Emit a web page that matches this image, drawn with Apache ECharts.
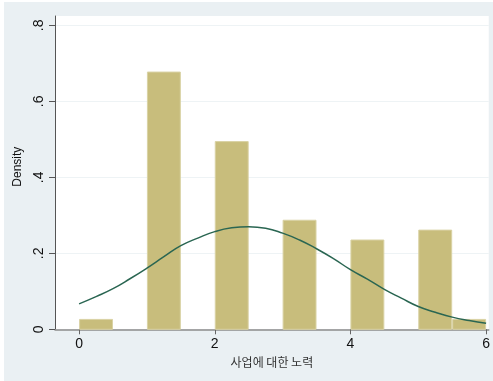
<!DOCTYPE html>
<html>
<head>
<meta charset="utf-8">
<script src="https://cdn.jsdelivr.net/npm/echarts@6/dist/echarts.min.js"></script>
<style>
  html, body { margin: 0; padding: 0; background: #ffffff; }
  #chart { width: 493px; height: 381px; }
</style>
</head>
<body>
<div id="chart"></div>
<script>
// Histogram bins (left edge, width 0.5) and their densities
const binStarts = [0, 1, 2, 3, 4, 5, 5.5];
const binWidth = 0.5;
const binDensity = [0.026, 0.677, 0.494, 0.287, 0.235, 0.261, 0.026];

// Normal density overlay, sampled every quarter unit
const curveX = [0, 0.25, 0.5, 0.75, 1, 1.25, 1.5, 1.75, 2, 2.25, 2.5, 2.75, 3,
                3.25, 3.5, 3.75, 4, 4.25, 4.5, 4.75, 5, 5.25, 5.5, 5.75, 6];
const curveY = [0.067, 0.086, 0.107, 0.133, 0.161, 0.191, 0.220, 0.240, 0.257, 0.267, 0.270, 0.266, 0.253,
                0.235, 0.212, 0.186, 0.157, 0.132, 0.105, 0.082, 0.060, 0.045, 0.032, 0.023, 0.016];

// Axis ticks
const yTicks = [0, 0.2, 0.4, 0.6, 0.8];
const yTickLabels = ['0', '.2', '.4', '.6', '.8'];
const xTicks = [0, 2, 4, 6];

const chart = echarts.init(document.getElementById('chart'), null, { renderer: 'canvas' });

const barData = binStarts.map((s, i) => [s, s + binWidth, binDensity[i]]);
const lineData = curveX.map((x, i) => [x, curveY[i]]);

const textFont = '"Liberation Sans", Arial, sans-serif';

chart.setOption({
  backgroundColor: '#ffffff',
  animation: false,
  graphic: [{
    type: 'rect',
    z: -10,
    silent: true,
    shape: { x: 4, y: 2, width: 489, height: 379 },
    style: { fill: '#eaf0f3' }
  }],
  grid: {
    left: 55, right: 0, top: 16, bottom: 51.7,
    show: true, backgroundColor: '#ffffff', borderWidth: 0
  },
  xAxis: {
    type: 'value',
    min: -0.355, max: 6.039,
    name: '사업에 대한 노력',
    nameLocation: 'middle',
    nameGap: 25,
    nameTextStyle: { fontFamily: '"Noto Sans CJK KR", sans-serif', fontSize: 12, color: '#333' },
    axisLine: { show: true, onZero: false, lineStyle: { color: '#8c8c8c', width: 1.5 } },
    axisTick: { show: true, length: 5, customValues: xTicks, lineStyle: { color: '#666' } },
    axisLabel: { customValues: xTicks, margin: 8, fontSize: 14, color: '#111', fontFamily: textFont },
    splitLine: { show: false }
  },
  yAxis: {
    type: 'value',
    min: 0, max: 0.8245,
    name: 'Density',
    nameLocation: 'middle',
    nameRotate: 90,
    nameGap: 24,
    nameTextStyle: { fontFamily: textFont, fontSize: 12, color: '#111', padding: [0, 0, 0, 12] },
    axisLine: { show: true, onZero: false, lineStyle: { color: '#555', width: 1 } },
    axisTick: { show: true, length: 6, customValues: yTicks, lineStyle: { color: '#555' } },
    axisLabel: {
      customValues: yTicks,
      rotate: 90,
      margin: 9,
      fontSize: 14,
      color: '#111',
      fontFamily: textFont,
      formatter: v => yTickLabels[yTicks.findIndex(t => Math.abs(t - v) < 1e-9)] ?? ''
    },
    splitLine: { show: true, lineStyle: { color: '#eef3f5', width: 1 } }
  },
  series: [
    {
      type: 'custom',
      data: barData,
      encode: { x: [0, 1], y: 2 },
      renderItem: (params, api) => {
        const p0 = api.coord([api.value(0), 0]);
        const p1 = api.coord([api.value(1), api.value(2)]);
        return {
          type: 'rect',
          shape: { x: p0[0] + 0.5, y: p1[1], width: p1[0] - p0[0] - 1, height: p0[1] - p1[1] },
          style: { fill: '#c8bd7c', stroke: '#d9d2a4', lineWidth: 1 }
        };
      },
      z: 2
    },
    {
      type: 'line',
      data: lineData,
      smooth: true,
      symbol: 'none',
      lineStyle: { color: '#2a6652', width: 1.5 },
      z: 3
    }
  ]
});
</script>
</body>
</html>
